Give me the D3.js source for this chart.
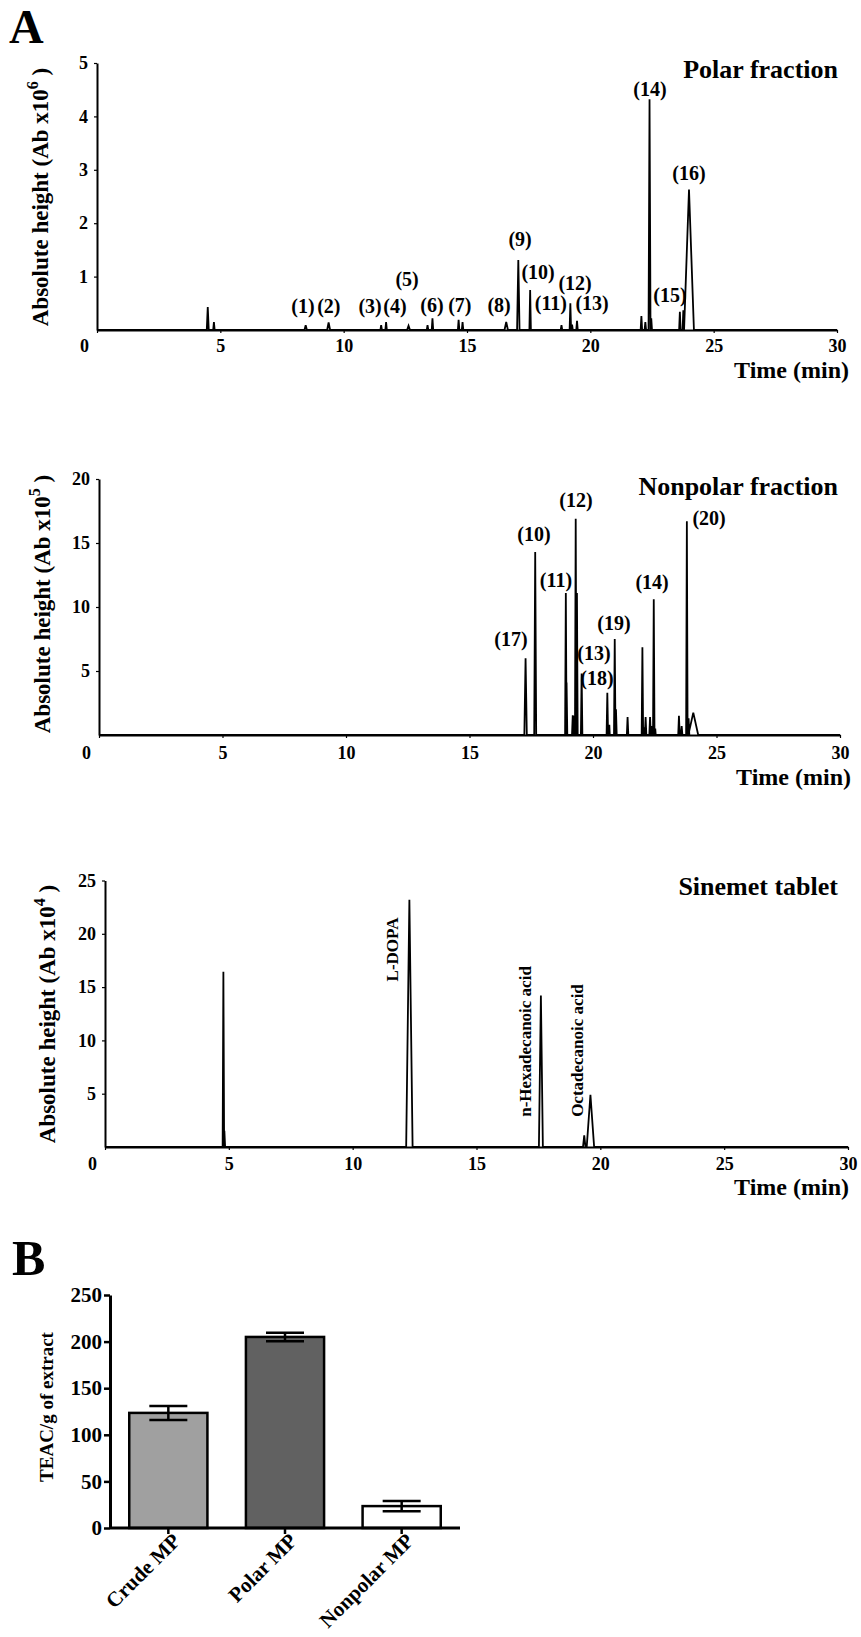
<!DOCTYPE html>
<html>
<head>
<meta charset="utf-8" />
<title></title>
<script src="https://cdnjs.cloudflare.com/ajax/libs/d3/7.8.5/d3.min.js"></script>
<style type="text/css">
    body { margin: 0; background: #fff; }
    text { font-family: "Liberation Serif", "Times New Roman", serif; font-weight: bold; fill: #000; }
</style>
</head>
<body>
<div id="fig"></div>
<script type="text/javascript">

    // ---- data ----
    var timeTicks = [0, 5, 10, 15, 20, 25, 30];

    // polar fraction (Ab x10^6)
    var polarTimes   = [4.49, 4.74, 8.46, 9.39, 11.52, 11.72, 12.63, 13.40, 13.60, 14.66, 14.82, 16.59, 17.08, 17.56, 18.83, 19.19, 19.26, 19.46, 22.07, 22.23, 22.40, 22.47, 23.63, 23.77, 24.00];
    var polarHeights = [0.43, 0.15, 0.09, 0.14, 0.09, 0.15, 0.08, 0.09, 0.22, 0.19, 0.15, 0.15, 1.31, 0.75, 0.09, 0.50, 0.10, 0.17, 0.26, 0.15, 4.32, 0.22, 0.34, 0.37, 2.63];
    var polarWidths  = [0.04, 0.03, 0.05, 0.06, 0.03, 0.03, 0.06, 0.03, 0.03, 0.03, 0.03, 0.07, 0.05, 0.03, 0.03, 0.03, 0.03, 0.03, 0.03, 0.03, 0.04, 0.03, 0.03, 0.03, 0.20];
    var polarTicks = [1, 2, 3, 4, 5];
    var polarLabels = ["(1)", "(2)", "(3)", "(4)", "(5)", "(6)", "(7)", "(8)", "(9)", "(10)", "(11)", "(12)", "(13)", "(14)", "(15)", "(16)"];
    var polarLabelT = [8.35, 9.40, 11.07, 12.08, 12.57, 13.58, 14.71, 16.30, 17.15, 17.88, 18.40, 19.38, 20.07, 22.42, 23.23, 24.00];
    var polarLabelV = [0.45, 0.45, 0.45, 0.45, 0.955, 0.47, 0.47, 0.47, 1.69, 1.07, 0.49, 0.88, 0.49, 4.51, 0.64, 2.94];

    // nonpolar fraction (Ab x10^5)
    var nonpolarTimes   = [17.27, 17.66, 18.90, 18.93, 19.18, 19.23, 19.30, 19.35, 19.54, 20.58, 20.66, 20.88, 20.93, 21.40, 22.00, 22.04, 22.13, 22.31, 22.38, 22.46, 22.52, 23.48, 23.59, 23.80, 23.87, 24.06];
    var nonpolarHeights = [6.0, 14.3, 11.1, 4.1, 1.55, 1.5, 16.9, 11.1, 4.8, 3.3, 0.8, 7.5, 2.0, 1.4, 6.85, 0.6, 1.4, 1.4, 0.7, 10.6, 0.5, 1.5, 0.7, 16.7, 1.3, 1.75];
    var nonpolarWidths  = [0.05, 0.04, 0.03, 0.03, 0.03, 0.03, 0.03, 0.03, 0.03, 0.03, 0.02, 0.03, 0.03, 0.03, 0.03, 0.02, 0.03, 0.03, 0.02, 0.03, 0.02, 0.03, 0.03, 0.03, 0.03, 0.20];
    var nonpolarTicks = [5, 10, 15, 20];
    var nonpolarLabels = ["(17)", "(10)", "(11)", "(12)", "(13)", "(18)", "(19)", "(14)", "(20)"];
    var nonpolarLabelT = [16.68, 17.61, 18.50, 19.31, 20.04, 20.16, 20.85, 22.39, 24.70];
    var nonpolarLabelV = [7.5, 15.7, 12.1, 18.3, 6.4, 4.45, 8.75, 11.95, 16.9];

    // sinemet tablet (Ab x10^4)
    var sinemetTimes   = [4.78, 4.82, 12.29, 17.60, 19.35, 19.60];
    var sinemetHeights = [16.45, 1.53, 23.2, 14.2, 1.1, 4.9];
    var sinemetWidths  = [0.03, 0.03, 0.13, 0.08, 0.05, 0.15];
    var sinemetTicks = [5, 10, 15, 20, 25];
    var sinemetLabels = ["L-DOPA", "n-Hexadecanoic acid", "Octadecanoic acid"];
    var sinemetLabelT = [11.59, 16.96, 19.06];
    var sinemetLabelV = [18.53, 9.9, 9.05];

    // panel B
    var teacCategories = ["Crude MP", "Polar MP", "Nonpolar MP"];
    var teacValues = [123.5, 205, 23.5];
    var teacErrors = [7.5, 4.5, 5.5];
    var teacColors = ["#a0a0a0", "#616161", "#ffffff"];
    var teacTicks = [0, 50, 100, 150, 200, 250];

    var width = 861, height = 1637;
    var svg = d3.select("#fig").append("svg")
        .attr("width", width)
        .attr("height", height);

    svg.append("text").attr("x", 9).attr("y", 43).attr("fill", "#000").style("font-size", "48px").text("A");
    svg.append("text").attr("x", 12).attr("y", 1275).attr("fill", "#000").style("font-size", "50px").text("B");

    function drawChrom(p) {
        var x = d3.scaleLinear().domain([0, 30]).range([p.left, p.right]);
        var y = d3.scaleLinear().domain([0, p.ymax]).range([p.base, p.top]);
        var g = svg.append("g");

        // trace built from the peak list
        var pts = [[0, 0]];
        p.times.forEach(function (t, i) {
            pts.push([t - p.widths[i], 0]);
            pts.push([t, p.heights[i]]);
            pts.push([t + p.widths[i], 0]);
        });
        pts.push([30, 0]);
        var line = d3.line()
            .x(function (d) { return x(d[0]); })
            .y(function (d) { return y(d[1]); });
        g.append("path").datum(pts)
            .attr("d", line)
            .attr("fill", "none")
            .attr("stroke", "#000")
            .attr("stroke-width", 1.8)
            .attr("stroke-linejoin", "miter");

        var xa = g.append("g").attr("transform", "translate(0," + p.base + ")")
            .call(d3.axisBottom(x).tickValues(timeTicks).tickFormat(d3.format("d"))
                .tickSize(3).tickPadding(p.xpad).tickSizeOuter(0));
        xa.selectAll("text").style("font-size", "18px")
            .attr("dx", function (d) { return d === 0 ? -13 : 0; });
        var ya = g.append("g").attr("transform", "translate(" + p.left + ",0)")
            .call(d3.axisLeft(y).tickValues(p.ticks).tickFormat(d3.format("d"))
                .tickSize(3).tickPadding(6).tickSizeOuter(0));
        ya.selectAll("text").style("font-size", "18px");
        g.selectAll(".domain").attr("stroke-width", 2);
        g.selectAll(".tick line").attr("stroke-width", 1.2);
        g.selectAll(".tick text").style("font-family", "Liberation Serif").style("font-weight", "bold").attr("fill", "#000");

        // title and axis titles
        g.append("text").attr("x", 838).attr("y", p.titleY).attr("fill", "#000")
            .attr("text-anchor", "end").style("font-size", "26px").text(p.title);
        g.append("text").attr("x", p.timeX).attr("y", p.timeY).attr("fill", "#000")
            .attr("text-anchor", "end").style("font-size", "24px").text("Time (min)");

        var yl = g.append("text")
            .attr("transform", "translate(" + p.ylabX + "," + p.ylabY + ") rotate(-90)")
            .attr("text-anchor", "middle").attr("dy", "0.35em").attr("fill", "#000")
            .style("font-size", "23px");
        yl.append("tspan").text("Absolute height (Ab x10");
        yl.append("tspan").attr("dy", -10).style("font-size", "16px").text(p.exp);
        yl.append("tspan").attr("dy", 10).text(" )");

        // peak labels
        g.selectAll(".plab").data(p.labels).enter().append("text")
            .attr("class", "plab")
            .attr("text-anchor", "middle")
            .attr("fill", "#000")
            .attr("dy", p.rotate ? "0.35em" : "0.33em")
            .attr("transform", function (d, i) {
                var s = "translate(" + x(p.labelT[i]) + "," + y(p.labelV[i]) + ")";
                return p.rotate ? s + " rotate(-90)" : s;
            })
            .style("font-size", p.rotate ? "17px" : "20px")
            .text(function (d) { return d; });
    }

    drawChrom({
        times: polarTimes, heights: polarHeights, widths: polarWidths,
        ticks: polarTicks, ymax: 5, exp: "6",
        labels: polarLabels, labelT: polarLabelT, labelV: polarLabelV,
        left: 97, right: 837, top: 63, base: 330, xpad: 6,
        title: "Polar fraction", titleY: 78, timeX: 849, timeY: 378,
        ylabX: 40, ylabY: 197
    });

    drawChrom({
        times: nonpolarTimes, heights: nonpolarHeights, widths: nonpolarWidths,
        ticks: nonpolarTicks, ymax: 20, exp: "5",
        labels: nonpolarLabels, labelT: nonpolarLabelT, labelV: nonpolarLabelV,
        left: 99, right: 840, top: 479, base: 735, xpad: 8,
        title: "Nonpolar fraction", titleY: 495, timeX: 851, timeY: 785,
        ylabX: 42, ylabY: 604
    });

    drawChrom({
        times: sinemetTimes, heights: sinemetHeights, widths: sinemetWidths,
        ticks: sinemetTicks, ymax: 25, exp: "4",
        labels: sinemetLabels, labelT: sinemetLabelT, labelV: sinemetLabelV, rotate: true,
        left: 105, right: 848, top: 880.5, base: 1147, xpad: 7,
        title: "Sinemet tablet", titleY: 895, timeX: 849, timeY: 1195,
        ylabX: 47, ylabY: 1014
    });

    // ---- panel B ----
    var bx = d3.scaleBand().domain(teacCategories).range([110, 460]).paddingInner(0.33).paddingOuter(0.165);
    var by = d3.scaleLinear().domain([0, 250]).range([1528, 1295]);
    var gb = svg.append("g");

    gb.selectAll(".bar").data(teacValues).enter().append("rect")
        .attr("class", "bar")
        .attr("x", function (d, i) { return bx(teacCategories[i]); })
        .attr("y", function (d) { return by(d); })
        .attr("width", bx.bandwidth())
        .attr("height", function (d) { return by(0) - by(d); })
        .attr("fill", function (d, i) { return teacColors[i]; })
        .attr("stroke", "#000")
        .attr("stroke-width", 2.5);

    var capW = 19;
    teacValues.forEach(function (v, i) {
        var cx = bx(teacCategories[i]) + bx.bandwidth() / 2;
        var e = teacErrors[i];
        gb.append("line").attr("x1", cx).attr("x2", cx)
            .attr("y1", by(v + e)).attr("y2", by(v - e))
            .attr("stroke", "#000").attr("stroke-width", 2.5);
        [v + e, v - e].forEach(function (w) {
            gb.append("line").attr("x1", cx - capW).attr("x2", cx + capW)
                .attr("y1", by(w)).attr("y2", by(w))
                .attr("stroke", "#000").attr("stroke-width", 2.5);
        });
    });

    var bya = gb.append("g").attr("transform", "translate(110,0)")
        .call(d3.axisLeft(by).tickValues(teacTicks).tickSize(6).tickPadding(2).tickSizeOuter(0));
    bya.selectAll("text").style("font-size", "21px");

    var bxa = gb.append("g").attr("transform", "translate(0,1528)")
        .call(d3.axisBottom(bx).tickSize(6).tickSizeOuter(0));
    bxa.select(".domain").attr("d", "M110,0H460");
    bxa.selectAll("text")
        .style("font-size", "21px")
        .attr("text-anchor", "end")
        .attr("transform", "translate(8,9) rotate(-45)")
        .attr("y", 0).attr("dy", "0.35em");
    gb.selectAll(".domain").attr("stroke-width", 3);
    gb.selectAll(".tick line").attr("stroke-width", 2.5);
    gb.selectAll(".tick text").style("font-family", "Liberation Serif").style("font-weight", "bold").attr("fill", "#000");

    gb.append("text")
        .attr("transform", "translate(46,1407) rotate(-90)")
        .attr("text-anchor", "middle").attr("dy", "0.35em").attr("fill", "#000")
        .style("font-size", "19px")
        .text("TEAC/g of extract");
</script>
</body>
</html>
